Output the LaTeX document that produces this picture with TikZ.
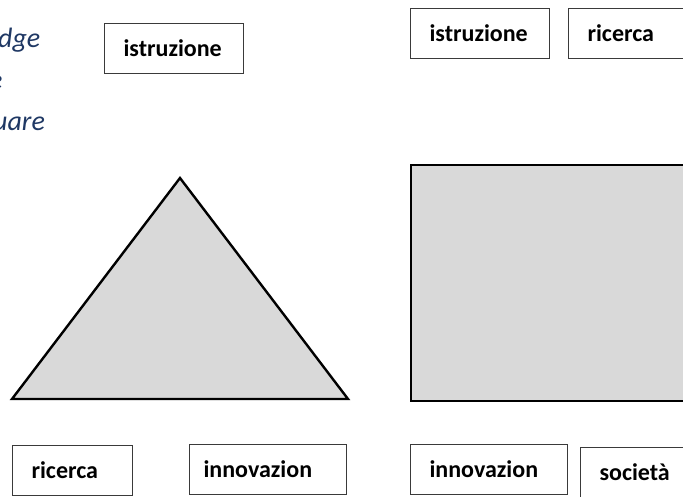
\documentclass[tikz,border=0pt]{standalone}
\usepackage{fontspec}
\setmainfont{Carlito}
\definecolor{shapegray}{HTML}{D9D9D9}
\definecolor{boxgray}{HTML}{3A3A3A}
\definecolor{titleblue}{HTML}{1F3864}
\begin{document}
\begin{tikzpicture}[
                x = 1pt, y = -1pt,
                lbl/.style = {draw = boxgray, line width = 1.1pt, anchor = north west,
                    minimum height = 50pt, inner xsep = 19pt, inner ysep = 0pt, align = left,
                    font = \fontsize{24}{28}\selectfont\bfseries},
                title/.style = {anchor = base west, inner sep = 0pt, text = titleblue,
                    font = \fontsize{28}{32}\selectfont\itshape},
                solid shape/.style = {draw, fill = shapegray, line width = 2.4pt, line join = miter},
            ]
            \useasboundingbox (0, 0) rectangle (683, 496);

            % heading lines on the left
            \node (T1) at (-2, 47) [title] {dge};
            \node (T2) at (-11, 89) [title] {e};
            \node (T3) at (-7, 130) [title] {uare};

            % the two shapes
            \path[solid shape] (180, 178) -- (348, 399) -- (12, 399) -- cycle;
            \path[solid shape] (411, 165) rectangle (700, 401);

            % labels round the triangle
            \node (istrL) at (104, 23) [lbl, text width = 101pt] {istruzione};
            \node (ricL) at (12, 445) [lbl, text width = 82pt] {ricerca};
            \node (innL) at (189, 444) [lbl, inner xsep = 14pt, text width = 129pt] {innovazion};

            % labels round the square
            \node (istrR) at (410, 8) [lbl, text width = 101pt] {istruzione};
            \node (ricR) at (568, 8) [lbl, text width = 82pt] {ricerca};
            \node (innR) at (410, 444) [lbl, text width = 119pt] {innovazion};
            \node (socR) at (580, 447) [lbl, text width = 82pt] {società};
        \end{tikzpicture}
\end{document}
